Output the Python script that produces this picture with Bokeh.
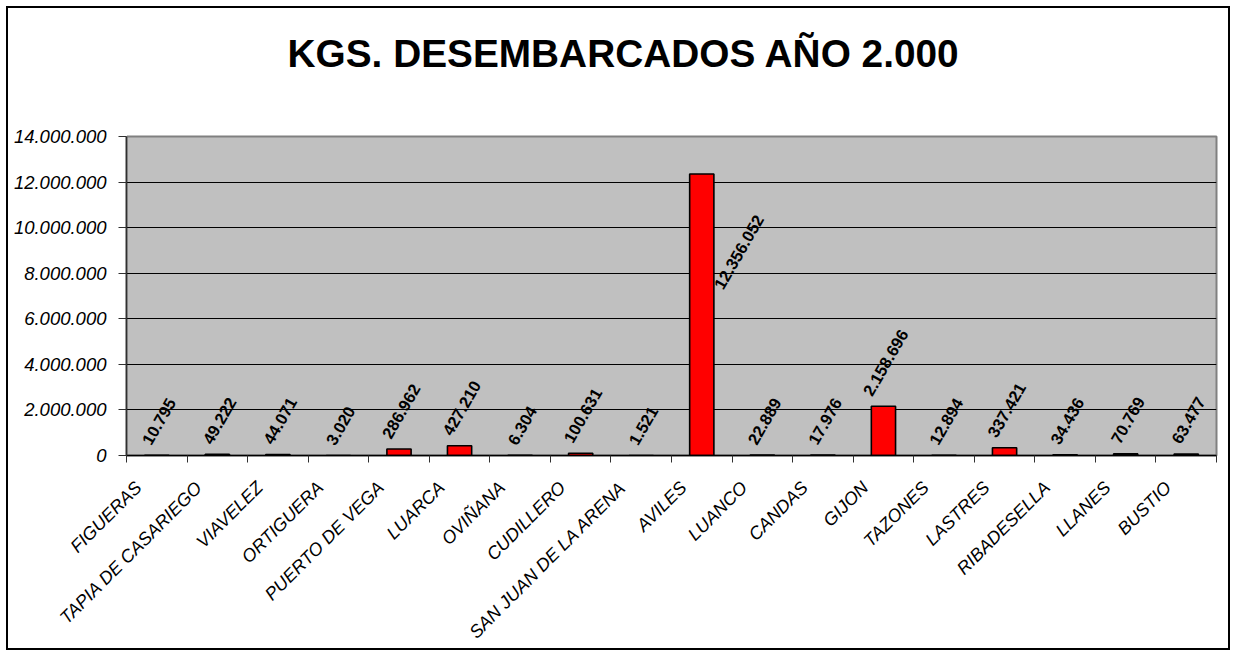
import math
from bokeh.plotting import figure
from bokeh.models import ColumnDataSource, FixedTicker, Range1d, Title, LinearAxis
from bokeh.embed import file_html
from bokeh.resources import INLINE
from bokeh.core.properties import value

# ---------------- data ----------------
puertos = ["FIGUERAS", "TAPIA DE CASARIEGO", "VIAVELEZ", "ORTIGUERA", "PUERTO DE VEGA",
           "LUARCA", "OVIÑANA", "CUDILLERO", "SAN JUAN DE LA ARENA", "AVILES", "LUANCO",
           "CANDAS", "GIJON", "TAZONES", "LASTRES", "RIBADESELLA", "LLANES", "BUSTIO"]
kgs = [10795, 49222, 44071, 3020, 286962, 427210, 6304, 100631, 1521, 12356052,
       22889, 17976, 2158696, 12894, 337421, 34436, 70769, 63477]
y_ticks = [0, 2000000, 4000000, 6000000, 8000000, 10000000, 12000000, 14000000]
y_tick_labels = ["0", "2.000.000", "4.000.000", "6.000.000", "8.000.000",
                 "10.000.000", "12.000.000", "14.000.000"]
titulo = "KGS. DESEMBARCADOS AÑO 2.000"

# ---------------- helpers ----------------
FONT = "Liberation Sans"
LBL_SIZE = 16.5
ANG = math.radians(60)


def miles(n):
    return f"{n:,}".replace(",", ".")


def text_len(s, size):
    w = 0.0
    for ch in s:
        w += 0.278 if ch == "." else 0.556
    return w * size


n = len(puertos)
xc = [i + 0.5 for i in range(n)]
labels = [miles(v) for v in kgs]
ymax = y_ticks[-1]

dxs, dys = [], []
for v, s in zip(kgs, labels):
    L = text_len(s, LBL_SIZE)
    Hbox = L * math.sin(ANG) + 0.72 * LBL_SIZE * math.cos(ANG)
    if v > 0.6 * ymax:
        # label placed inside, beside the tall bar
        dxs.append(37)
        dys.append(78)
    else:
        dxs.append(2)
        dys.append(-(Hbox / 2 + 9))

src = ColumnDataSource(dict(x=xc, kgs=kgs, lbl=labels, dx=dxs, dy=dys))

W, H = 1224, 644
p = figure(width=W, height=H, output_backend="svg", toolbar_location=None,
           x_range=Range1d(0, n), y_range=Range1d(0, ymax),
           min_border_left=118, min_border_right=16, min_border_top=128,
           min_border_bottom=195)
p.styles = {"border": "2px solid black", "margin-left": "6px", "margin-top": "6px"}

# invisible spacer axis between frame and title (white tick on white, no labels)
spacer = LinearAxis(ticker=FixedTicker(ticks=[0]), axis_line_color=None,
                    major_tick_line_color="white", minor_tick_line_color=None,
                    major_tick_out=57, major_tick_in=0, minor_tick_out=0,
                    minor_tick_in=0, major_label_standoff=0,
                    major_label_text_color=None)
p.add_layout(spacer, "above")

p.add_layout(Title(text=titulo, align="left", offset=161, standoff=10,
                   text_font=FONT, text_font_style="bold", text_font_size="38.8px",
                   text_color="black"), "above")

p.background_fill_color = "#C0C0C0"
p.border_fill_color = "white"
p.outline_line_color = "#808080"
p.outline_line_width = 2

p.vbar(x="x", top="kgs", width=0.4, source=src, fill_color="#FF0000",
       line_color="black", line_width=1.6)

p.text(x="x", y="kgs", text="lbl", source=src, angle=ANG,
       x_offset="dx", y_offset="dy", text_align="center", text_baseline="middle",
       text_font=value(FONT), text_font_style="bold",
       text_font_size=f"{LBL_SIZE}px", text_color="black")

# y axis
p.yaxis.ticker = FixedTicker(ticks=y_ticks)
p.yaxis.major_label_overrides = {t: l for t, l in zip(y_ticks, y_tick_labels)}
p.yaxis.major_label_text_font = FONT
p.yaxis.major_label_text_font_style = "italic"
p.yaxis.major_label_text_font_size = "18.5px"
p.yaxis.major_label_text_color = "black"
p.yaxis.axis_line_color = "#303030"
p.yaxis.axis_line_width = 1.5
p.yaxis.major_tick_line_color = "#303030"
p.yaxis.major_tick_out = 8
p.yaxis.major_tick_in = 0
p.yaxis.minor_tick_line_color = None
p.yaxis.major_label_standoff = 12

# x axis: category names sit on invisible major ticks, boundaries get the minor ticks
xax = p.below[0]
label_pos = [c - 0.3 for c in xc]
xax.ticker = FixedTicker(ticks=label_pos, minor_ticks=list(range(n + 1)))
xax.major_label_overrides = {c: name for c, name in zip(label_pos, puertos)}
xax.major_label_orientation = math.pi / 4
xax.major_label_text_font = FONT
xax.major_label_text_font_style = "italic"
xax.major_label_text_font_size = "18px"
xax.major_label_text_color = "black"
xax.axis_line_color = "black"
xax.axis_line_width = 1.5
xax.major_tick_line_color = None
xax.major_tick_out = 0
xax.major_tick_in = 0
xax.minor_tick_line_color = "#303030"
xax.minor_tick_out = 7
xax.minor_tick_in = 0
xax.major_label_standoff = 22

p.xgrid.grid_line_color = None
p.ygrid.grid_line_color = "black"
p.ygrid.grid_line_width = 1

open("out.html", "w").write(file_html(p, INLINE))
